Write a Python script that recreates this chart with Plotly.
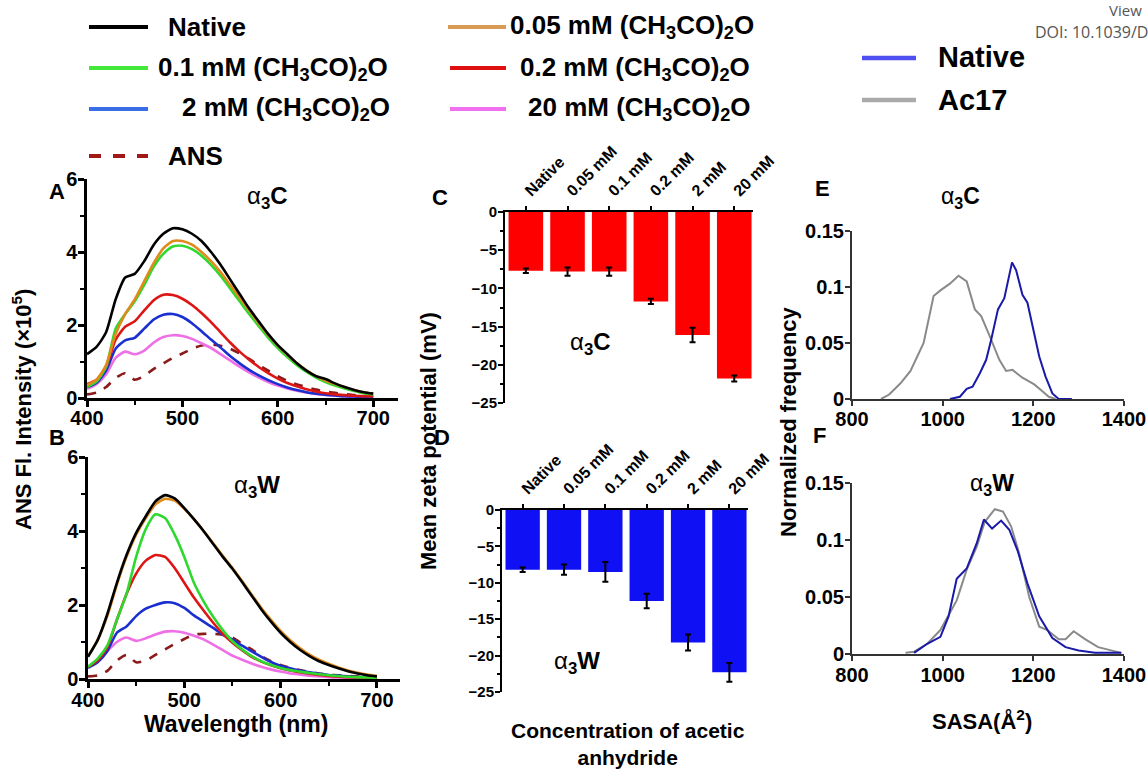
import plotly.graph_objects as go

W, H = 1148, 771

# ---------------- Data ----------------
wavelength = [400, 410, 420, 430, 440, 450, 460, 470, 480, 490, 500, 510, 520, 530, 540, 550,
              560, 570, 580, 590, 600, 610, 620, 630, 640, 650, 660, 670, 680, 690, 700]

# Panel A (alpha3C) ANS fluorescence (x10^5)
a_native = [1.2, 1.4, 1.8, 2.7, 3.3, 3.4, 3.75, 4.2, 4.5, 4.65, 4.62, 4.5, 4.3, 4.0, 3.65, 3.25,
            2.85, 2.45, 2.1, 1.75, 1.45, 1.2, 0.95, 0.75, 0.6, 0.52, 0.4, 0.3, 0.22, 0.16, 0.12]
a_005 = [0.35, 0.5, 0.9, 1.75, 2.3, 2.7, 3.2, 3.7, 4.1, 4.3, 4.3, 4.2, 4.0, 3.75, 3.45, 3.1,
         2.75, 2.4, 2.05, 1.72, 1.43, 1.18, 0.95, 0.76, 0.6, 0.48, 0.38, 0.3, 0.22, 0.16, 0.12]
a_01 = [0.3, 0.45, 0.85, 1.9, 2.3, 2.65, 3.1, 3.6, 3.95, 4.15, 4.17, 4.08, 3.9, 3.65, 3.35, 3.0,
        2.65, 2.3, 1.97, 1.65, 1.37, 1.12, 0.9, 0.72, 0.56, 0.44, 0.34, 0.26, 0.19, 0.13, 0.1]
a_02 = [0.38, 0.5, 0.85, 1.6, 1.95, 2.1, 2.4, 2.68, 2.83, 2.82, 2.72, 2.55, 2.33, 2.08, 1.8, 1.52,
        1.27, 1.05, 0.85, 0.68, 0.53, 0.41, 0.32, 0.24, 0.18, 0.13, 0.1, 0.08, 0.06, 0.05, 0.04]
a_2 = [0.3, 0.42, 0.75, 1.35, 1.58, 1.65, 1.9, 2.15, 2.28, 2.3, 2.22, 2.05, 1.83, 1.6, 1.38, 1.15,
       0.95, 0.77, 0.62, 0.49, 0.38, 0.29, 0.22, 0.16, 0.12, 0.09, 0.07, 0.05, 0.04, 0.03, 0.02]
a_20 = [0.25, 0.38, 0.65, 1.1, 1.27, 1.2, 1.3, 1.52, 1.67, 1.72, 1.7, 1.62, 1.5, 1.37, 1.2, 1.03,
        0.86, 0.7, 0.56, 0.44, 0.34, 0.26, 0.2, 0.15, 0.11, 0.08, 0.06, 0.05, 0.04, 0.03, 0.02]
a_ans = [0.1, 0.15, 0.3, 0.55, 0.68, 0.5, 0.6, 0.8, 0.95, 1.1, 1.22, 1.35, 1.44, 1.47, 1.43, 1.35,
         1.22, 1.07, 0.9, 0.75, 0.6, 0.47, 0.37, 0.3, 0.23, 0.18, 0.14, 0.11, 0.08, 0.06, 0.05]

# Panel B (alpha3W)
b_native = [0.6, 1.05, 1.75, 2.6, 3.35, 3.95, 4.4, 4.8, 4.97, 4.88, 4.62, 4.32, 4.0, 3.65, 3.3, 2.98,
            2.62, 2.25, 1.88, 1.55, 1.25, 1.0, 0.79, 0.62, 0.48, 0.38, 0.29, 0.21, 0.15, 0.1, 0.07]
b_005 = [0.62, 1.05, 1.7, 2.55, 3.3, 3.9, 4.35, 4.72, 4.87, 4.82, 4.6, 4.32, 4.0, 3.67, 3.33, 3.0,
         2.65, 2.28, 1.92, 1.6, 1.3, 1.05, 0.84, 0.66, 0.52, 0.41, 0.31, 0.23, 0.17, 0.12, 0.08]
b_01 = [0.33, 0.55, 0.9, 1.6, 2.3, 3.3, 4.05, 4.45, 4.35, 3.9, 3.3, 2.6, 2.1, 1.68, 1.32, 1.02,
        0.8, 0.62, 0.48, 0.38, 0.3, 0.24, 0.2, 0.16, 0.13, 0.1, 0.08, 0.06, 0.05, 0.04, 0.03]
b_02 = [0.33, 0.5, 0.85, 1.6, 2.3, 2.85, 3.2, 3.35, 3.3, 3.0, 2.6, 2.2, 1.85, 1.52, 1.22, 0.98,
        0.78, 0.6, 0.47, 0.37, 0.29, 0.23, 0.18, 0.14, 0.11, 0.08, 0.06, 0.05, 0.04, 0.03, 0.02]
b_2 = [0.3, 0.45, 0.75, 1.25, 1.42, 1.7, 1.9, 2.0, 2.07, 2.05, 1.92, 1.72, 1.55, 1.38, 1.2, 1.07,
       0.9, 0.75, 0.6, 0.46, 0.36, 0.29, 0.23, 0.18, 0.14, 0.11, 0.09, 0.07, 0.05, 0.04, 0.03]
b_20 = [0.33, 0.48, 0.75, 1.0, 1.12, 1.03, 1.1, 1.2, 1.28, 1.29, 1.25, 1.17, 1.07, 0.93, 0.78, 0.63,
        0.52, 0.42, 0.33, 0.26, 0.2, 0.15, 0.12, 0.09, 0.07, 0.05, 0.04, 0.03, 0.03, 0.02, 0.02]
b_ans = [0.07, 0.1, 0.22, 0.5, 0.65, 0.45, 0.5, 0.65, 0.8, 0.95, 1.08, 1.2, 1.22, 1.22, 1.2, 1.12,
         0.95, 0.8, 0.62, 0.48, 0.38, 0.3, 0.24, 0.19, 0.15, 0.12, 0.1, 0.08, 0.07, 0.06, 0.05]

# Panels C, D: zeta potential
conc_labels = ["Native", "0.05 mM", "0.1 mM", "0.2 mM", "2 mM", "20 mM"]
zeta_c = [-7.7, -7.8, -7.8, -11.7, -16.1, -21.8]
zeta_c_err = [0.3, 0.55, 0.55, 0.35, 0.95, 0.4]
zeta_d = [-8.2, -8.2, -8.5, -12.5, -18.2, -22.3]
zeta_d_err = [0.3, 0.7, 1.35, 1.0, 1.1, 1.3]

# Panels E, F: SASA distributions
e_ac17_x = [864, 882, 907, 929, 958, 980, 995, 1016, 1035, 1053, 1071, 1085, 1104, 1125, 1140,
            1154, 1176, 1202, 1220, 1234, 1249]
e_ac17_y = [0.0, 0.004, 0.014, 0.025, 0.05, 0.092, 0.097, 0.103, 0.11, 0.105, 0.08, 0.074,
            0.056, 0.035, 0.025, 0.026, 0.019, 0.013, 0.007, 0.002, 0.0]
e_native_x = [1016, 1038, 1053, 1066, 1082, 1096, 1107, 1122, 1136, 1153, 1162, 1176, 1187,
              1202, 1213, 1227, 1242, 1256, 1278, 1285]
e_native_y = [0.0, 0.002, 0.009, 0.011, 0.023, 0.035, 0.053, 0.08, 0.09, 0.122, 0.115, 0.093,
              0.086, 0.059, 0.038, 0.02, 0.005, 0.0, 0.0, 0.0]
f_ac17_x = [918, 937, 966, 995, 1013, 1031, 1053, 1075, 1093, 1115, 1133, 1151, 1169, 1191,
            1213, 1231, 1256, 1271, 1289, 1314, 1343, 1372, 1394]
f_ac17_y = [0.001, 0.002, 0.009, 0.021, 0.034, 0.047, 0.074, 0.094, 0.116, 0.127, 0.125, 0.112,
            0.088, 0.05, 0.024, 0.021, 0.013, 0.013, 0.02, 0.013, 0.006, 0.003, 0.001]
f_native_x = [937, 966, 995, 1013, 1031, 1053, 1075, 1091, 1109, 1129, 1147, 1165, 1187, 1213,
              1242, 1271, 1300, 1336, 1394]
f_native_y = [0.001, 0.009, 0.015, 0.033, 0.066, 0.075, 0.097, 0.118, 0.110, 0.117, 0.109,
              0.091, 0.062, 0.033, 0.014, 0.006, 0.003, 0.001, 0.001]

sasa_ticks = [800, 1000, 1200, 1400]
freq_ticks = [0, 0.05, 0.1, 0.15]
freq_labels = ["0", "0.05", "0.1", "0.15"]

# ---------------- Styles ----------------
FONT = "Liberation Sans"
col_native = "#000000"
col_005 = "#e08a1c"
col_01 = "#2ed82e"
col_02 = "#dd1515"
col_2 = "#1a2fd0"
col_20 = "#ee6fe6"
col_ans = "#8b1a1a"
col_e_native = "#1a1aa8"
col_e_ac17 = "#8a8a8a"


def X(px):
    return px / W


def Y(py):
    return 1 - py / H


fig = go.Figure()

spec_series = [
    ("Native", col_native, "solid"),
    ("0.05 mM", col_005, "solid"),
    ("0.1 mM", col_01, "solid"),
    ("0.2 mM", col_02, "solid"),
    ("2 mM", col_2, "solid"),
    ("20 mM", col_20, "solid"),
    ("ANS", col_ans, "dash"),
]
a_vals = [a_native, a_005, a_01, a_02, a_2, a_20, a_ans]
b_vals = [b_native, b_005, b_01, b_02, b_2, b_20, b_ans]
order = [6, 5, 4, 3, 2, 1, 0]
for i in order:
    name, col, dash = spec_series[i]
    fig.add_trace(go.Scatter(x=wavelength, y=a_vals[i], mode="lines", name=name,
                             line=dict(color=col, width=2.6, dash=dash, shape="spline", smoothing=0.6),
                             xaxis="x", yaxis="y", showlegend=False))
for i in order:
    name, col, dash = spec_series[i]
    fig.add_trace(go.Scatter(x=wavelength, y=b_vals[i], mode="lines", name=name,
                             line=dict(color=col, width=2.6, dash=dash, shape="spline", smoothing=0.6),
                             xaxis="x2", yaxis="y2", showlegend=False))

fig.add_trace(go.Bar(x=conc_labels, y=zeta_c, marker=dict(color="#ff0000", line=dict(width=0)),
                     error_y=dict(type="data", array=zeta_c_err, color="black", thickness=2, width=3),
                     xaxis="x3", yaxis="y3", showlegend=False))
fig.add_trace(go.Bar(x=conc_labels, y=zeta_d, marker=dict(color="#1010f5", line=dict(width=0)),
                     error_y=dict(type="data", array=zeta_d_err, color="black", thickness=2, width=3),
                     xaxis="x4", yaxis="y4", showlegend=False))

fig.add_trace(go.Scatter(x=e_ac17_x, y=e_ac17_y, mode="lines", line=dict(color=col_e_ac17, width=2),
                         xaxis="x5", yaxis="y5", showlegend=False))
fig.add_trace(go.Scatter(x=e_native_x, y=e_native_y, mode="lines", line=dict(color=col_e_native, width=2),
                         xaxis="x5", yaxis="y5", showlegend=False))
fig.add_trace(go.Scatter(x=f_ac17_x, y=f_ac17_y, mode="lines", line=dict(color=col_e_ac17, width=2),
                         xaxis="x6", yaxis="y6", showlegend=False))
fig.add_trace(go.Scatter(x=f_native_x, y=f_native_y, mode="lines", line=dict(color=col_e_native, width=2),
                         xaxis="x6", yaxis="y6", showlegend=False))

tickfont_ab = dict(family=FONT, size=20, color="black", weight="bold")
tickfont_cd = dict(family=FONT, size=15, color="black", weight="bold")
tickfont_ef = dict(family=FONT, size=20, color="black", weight="bold")

common = dict(showgrid=False, zeroline=False, showline=True, linecolor="black", ticks="outside",
              tickcolor="black", automargin=False, ticklabeloverflow="allow")
common_ef = dict(showgrid=False, zeroline=False, showline=True, linecolor="#333333", ticks="outside",
                 tickcolor="#333333", automargin=False, linewidth=2, tickwidth=2, ticklen=5,
                 tickfont=tickfont_ef, ticklabeloverflow="allow")
minor_ab_x = dict(tickvals=[450, 550, 650], ticks="outside", ticklen=4, tickwidth=2, tickcolor="black")
minor_ab_y = dict(tickvals=[1, 3, 5], ticks="outside", ticklen=4, tickwidth=2, tickcolor="black")
minor_cd = dict(dtick=2.5, ticks="outside", ticklen=3, tickwidth=1.5, tickcolor="black")
catfont = dict(family=FONT, size=16, color="black", weight="bold")

layout_axes = dict(
    xaxis=dict(domain=[X(87), X(398)], range=[400, 726], anchor="y", tickvals=[400, 500, 600, 700],
               linewidth=2.5, tickwidth=2.5, ticklen=6, tickfont=tickfont_ab, minor=minor_ab_x,
               ticklabelstandoff=-6, **common),
    yaxis=dict(domain=[Y(398), Y(179)], range=[0, 6], anchor="x", tickvals=[0, 2, 4, 6],
               linewidth=2.5, tickwidth=2.5, ticklen=6, tickfont=tickfont_ab, minor=minor_ab_y,
               ticklabelstandoff=-3, **common),
    xaxis2=dict(domain=[X(88), X(400)], range=[400, 724], anchor="y2", tickvals=[400, 500, 600, 700],
                linewidth=2.5, tickwidth=2.5, ticklen=6, tickfont=tickfont_ab, minor=minor_ab_x,
                ticklabelstandoff=-5, **common),
    yaxis2=dict(domain=[Y(679), Y(457)], range=[0, 6], anchor="x2", tickvals=[0, 2, 4, 6],
                linewidth=2.5, tickwidth=2.5, ticklen=6, tickfont=tickfont_ab, minor=minor_ab_y,
                ticklabelstandoff=-3, **common),
    xaxis3=dict(domain=[X(505), X(753)], range=[-0.5, 5.45], anchor="y3", type="category", side="top",
                tickangle=-45, linewidth=2, tickwidth=2, ticklen=4, tickfont=catfont, **common),
    yaxis3=dict(domain=[Y(403), Y(212)], range=[-25, 0], anchor="x3", tickvals=[0, -5, -10, -15, -20, -25],
                linewidth=2, tickwidth=2, ticklen=5, tickfont=tickfont_cd, minor=minor_cd,
                ticklabelstandoff=-2, **common),
    xaxis4=dict(domain=[X(502), X(748)], range=[-0.5, 5.45], anchor="y4", type="category", side="top",
                tickangle=-45, linewidth=2, tickwidth=2, ticklen=4, tickfont=catfont, **common),
    yaxis4=dict(domain=[Y(692), Y(510)], range=[-25, 0], anchor="x4", tickvals=[0, -5, -10, -15, -20, -25],
                linewidth=2, tickwidth=2, ticklen=5, tickfont=tickfont_cd, minor=minor_cd,
                ticklabelstandoff=-2, **common),
    xaxis5=dict(domain=[X(852), X(1124)], range=[800, 1400], anchor="y5", tickvals=sasa_ticks,
                ticklabelstandoff=-4, **common_ef),
    yaxis5=dict(domain=[Y(399), Y(231)], range=[0, 0.15], anchor="x5", tickvals=freq_ticks,
                ticktext=freq_labels, ticklabelstandoff=-3, **common_ef),
    xaxis6=dict(domain=[X(852), X(1124)], range=[800, 1400], anchor="y6", tickvals=sasa_ticks,
                ticklabelstandoff=-3, **common_ef),
    yaxis6=dict(domain=[Y(654), Y(483)], range=[0, 0.15], anchor="x6", tickvals=freq_ticks,
                ticktext=freq_labels, ticklabelstandoff=-3, **common_ef),
)

annotations = []
shapes = []


def text(px, py, s, size, xanchor="center", yanchor="middle", angle=0, weight="bold", color="black", family=FONT):
    annotations.append(dict(x=X(px), y=Y(py), xref="paper", yref="paper", text=s, showarrow=False,
                            xanchor=xanchor, yanchor=yanchor, textangle=angle,
                            font=dict(family=family, size=size, color=color, weight=weight)))


def legline(x0, x1, py, color, dash="solid", width=4):
    shapes.append(dict(type="line", xref="paper", yref="paper", x0=X(x0), x1=X(x1), y0=Y(py), y1=Y(py),
                       line=dict(color=color, width=width, dash=dash)))


chem = " mM (CH<sub>3</sub>CO)<sub>2</sub>O"
# top-left legend
legline(89, 148, 27, "#000000")
text(166, 27, "Native", 26, xanchor="left")
legline(89, 148, 68, "#44e838")
text(156, 68, "0.1" + chem, 26, xanchor="left")
legline(89, 148, 109, "#3a6ee6")
text(180, 109, "2" + chem, 26, xanchor="left")
legline(89, 148, 156, "#a01818", dash="dash")
text(166, 156, "ANS", 26, xanchor="left")
legline(448, 506, 27, "#d99a55")
text(508, 27, "0.05" + chem, 26, xanchor="left")
legline(450, 506, 68, "#e01010")
text(518, 68, "0.2" + chem, 26, xanchor="left")
legline(450, 506, 109, "#f070f0")
text(526, 109, "20" + chem, 26, xanchor="left")

# right legend
legline(862, 916, 58, "#4f4ff0", width=4.5)
text(936, 57, "Native", 29, xanchor="left")
legline(862, 916, 100, "#aaaaaa", width=4.5)
text(936, 100, "Ac17", 29, xanchor="left")

# website artifacts
text(1144, 10, "View", 15, xanchor="right", weight="normal", color="#555555", family="Open Sans")
text(1150, 32, "DOI: 10.1039/D", 16, xanchor="right", weight="normal", color="#555555", family="Open Sans")

# panel letters
text(57, 191, "A", 22)
text(57, 437, "B", 22)
text(440, 198, "C", 22)
text(442, 437, "D", 22)
text(822, 188, "E", 22)
text(819, 435, "F", 22)

alpha = "<span style='font-weight:normal'>α</span><sub>3</sub>"
text(267, 198, alpha + "C", 24)
text(257, 486, alpha + "W", 24)
text(590, 343, alpha + "C", 24)
text(577, 662, alpha + "W", 24)
text(960, 198, alpha + "C", 23)
text(992, 484, alpha + "W", 23)

# axis titles
text(22, 410, "ANS Fl. Intensity (×10<sup>5</sup>)", 22, angle=-90)
text(236, 724, "Wavelength (nm)", 23)
text(428, 441, "Mean zeta potential (mV)", 22, angle=-90)
text(628, 744, "Concentration of acetic<br>anhydride", 21)
text(788, 422, "Normalized frequency", 22, angle=-90)
text(982, 720, "SASA(Å<sup>2</sup>)", 22)

fig.update_layout(
    template="none",
    width=W, height=H,
    margin=dict(l=0, r=0, t=0, b=0, autoexpand=False),
    paper_bgcolor="white", plot_bgcolor="white",
    bargap=0.17,
    annotations=annotations, shapes=shapes,
    font=dict(family=FONT, color="black"),
    **layout_axes,
)

fig.write_html("out.html")
